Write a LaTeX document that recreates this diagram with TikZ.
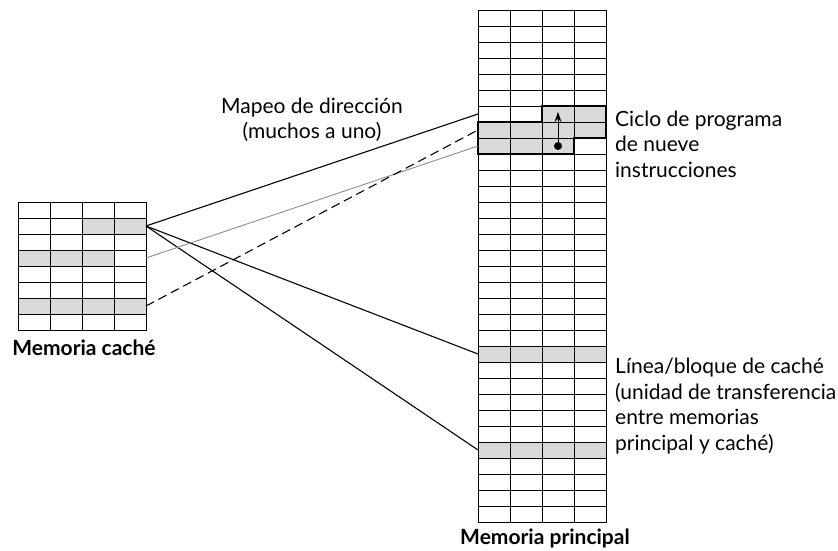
\documentclass[tikz,border=0pt]{standalone}
\usepackage{fontspec}
\setmainfont{Lato}
\usetikzlibrary{arrows.meta,positioning}
\definecolor{cellGray}{RGB}{217,217,217}
\definecolor{linkGray}{RGB}{140,140,140}

\begin{document}
\begin{tikzpicture}[x=1pt, y=-1pt, font=\fontsize{21}{25.5}\selectfont,
  memrow/.style={draw, line width=0.9pt, minimum width=128pt, minimum height=16pt, inner sep=0pt, outer sep=0pt},
  link/.style={line width=1.1pt},
  txtlabel/.style={align=left, anchor=west, inner sep=0pt},
  titlelabel/.style={font=\fontsize{21}{24}\selectfont\bfseries, inner sep=0pt}]
\useasboundingbox (0,0) rectangle (838,551);
% shaded cells
\fill[cellGray] (82,218) rectangle (146,234);
\fill[cellGray] (18,250) rectangle (114,266);
\fill[cellGray] (18,298) rectangle (146,314);
\fill[cellGray] (478,346) rectangle (606,362);
\fill[cellGray] (478,442) rectangle (606,458);
\fill[cellGray] (542,106) -- (606,106) -- (606,138) -- (574,138) -- (574,154)
  -- (478,154) -- (478,122) -- (542,122) -- cycle;
% cache rows
\foreach \r in {0,...,7}{
  \node[memrow] (c\r) at (82,{210+16*\r}) {};
}
\foreach \x in {50,82,114}
  \draw[line width=0.9pt] (\x,202) -- (\x,330);
% main memory rows
\foreach \r in {0,...,31}{
  \node[memrow] (mm\r) at (542,{18+16*\r}) {};
}
\foreach \x in {510,542,574}
  \draw[line width=0.9pt] (\x,10) -- (\x,522);
% program loop
\draw[line width=2pt] (542,106) -- (606,106) -- (606,138) -- (574,138) -- (574,154)
  -- (478,154) -- (478,122) -- (542,122) -- cycle;
\node[circle, fill, inner sep=0pt, minimum size=8pt] (pc) at (558,146) {};
\coordinate (pctop) at (558,112);
\draw[-{Stealth[length=10pt,width=7pt]}, line width=1pt] (pc) -- (pctop);
% mapping lines
\draw[link] (c1.east) -- (mm6.west);
\draw[link] (c1.east) -- (mm21.west);
\draw[link] (c1.east) -- (mm27.west);
\draw[line width=0.9pt, linkGray] (c3.east) -- (mm8.west);
\draw[link, dash pattern=on 9pt off 5pt] (c6.east) -- (mm7.west);
% labels
\node[align=center, inner sep=0pt] (maplbl) at (312,120) {Mapeo de dirección\\(muchos a uno)};
\node[txtlabel] (looplbl) at (615,144) {Ciclo de programa\\de nueve\\instrucciones};
\node[txtlabel] (linelbl) at (615,406) {Línea/bloque de caché\\(unidad de transferencia\\entre memorias\\principal y caché)};
\node[titlelabel] (cachelbl) at (84,348) {Memoria caché};
\node[titlelabel] (mainlbl) at (545,538) {Memoria principal};
\end{tikzpicture}
\end{document}
